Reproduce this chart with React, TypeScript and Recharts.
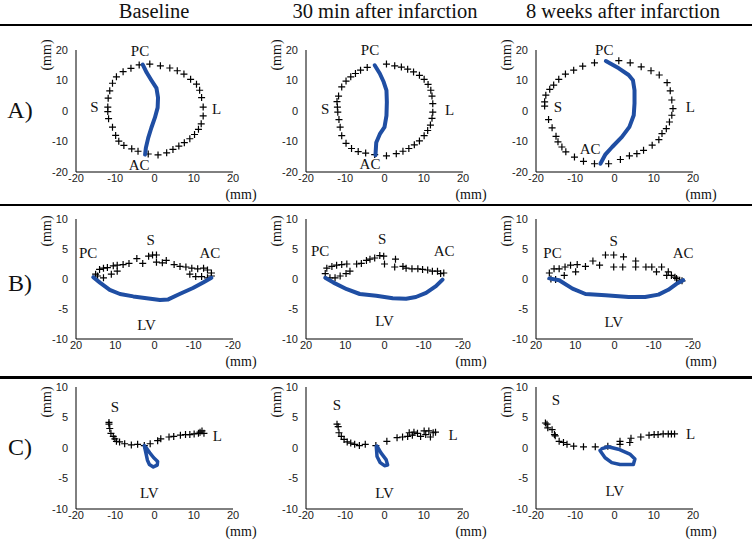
import React from "react";
import { ScatterChart, Scatter, XAxis, YAxis } from "recharts";

type Pt = [number, number];
interface Tag { t: string; x: number; y: number; }

const columnTitles = ["Baseline", "30 min after infarction", "8 weeks after infarction"];
const rowLabels = ["A)", "B)", "C)"];
const ticksWide = [-20, -10, 0, 10, 20];
const ticksNarrow = [-10, -5, 0, 5, 10];
const unitLabel = "(mm)";

// Row A: annulus seen from the atrium
const markersA1: Pt[] = [[-6.0,14.0],[-3.9,15.1],[-1.2,15.4],[1.5,14.8],[3.9,14.1],[5.8,13.2],[7.5,12.1],[9.2,10.4],[10.7,8.8],[11.5,6.8],[12.0,4.4],[12.4,1.3],[12.4,-1.6],[11.9,-4.2],[11.2,-6.0],[10.2,-7.7],[9.0,-9.1],[7.6,-10.4],[6.2,-11.5],[4.7,-12.6],[3.1,-13.7],[0.9,-14.4],[-1.6,-14.1],[-4.2,-13.2],[-5.8,-12.4],[-7.8,-11.3],[-9.1,-9.9],[-9.9,-8.0],[-10.7,-5.3],[-11.7,-2.5],[-11.9,-0.2],[-11.9,1.3],[-11.8,4.2],[-11.4,6.6],[-10.7,9.1],[-9.7,11.2],[-8.0,12.9]];
const pathA1: Pt[] = [[-3.0,15.2],[-2.0,12.6],[-0.8,10.1],[0.5,7.5],[0.9,4.4],[0.8,1.1],[0.1,-2.2],[-0.8,-5.5],[-1.6,-8.8],[-2.2,-12.1],[-2.4,-14.3]];
const tagsA1: Tag[] = [{ t: "PC", x: -3.7, y: 19.8 }, { t: "AC", x: -3.9, y: -17.8 }, { t: "S", x: -15.3, y: 1.3 }, { t: "L", x: 15.8, y: 0.5 }];

const markersA2: Pt[] = [[0.5,15.4],[2.6,14.8],[4.3,14.4],[5.9,13.7],[7.4,12.8],[8.9,11.7],[10.1,10.4],[11.1,8.7],[11.8,6.8],[12.1,4.9],[12.3,2.4],[12.3,-0.4],[12.1,-2.4],[11.7,-4.6],[11.0,-6.4],[10.1,-8.1],[8.9,-9.8],[7.6,-11.1],[6.2,-12.3],[4.7,-13.2],[3.0,-14.0],[0.5,-14.7],[-2.5,-14.3],[-4.8,-13.8],[-6.7,-13.3],[-8.4,-12.3],[-9.8,-10.6],[-10.9,-8.1],[-11.3,-5.3],[-11.6,-2.8],[-11.9,-0.4],[-12.0,1.3],[-12.1,3.1],[-11.7,4.9],[-10.9,7.9],[-9.8,9.8],[-8.6,11.2],[-7.4,12.3],[-6.1,13.4],[-4.4,14.3]];
const pathA2: Pt[] = [[-2.5,15.0],[-1.2,12.3],[-0.2,9.5],[0.5,6.8],[0.6,2.9],[0.5,-1.5],[0.0,-5.3],[-1.2,-7.6],[-2.1,-10.3],[-2.3,-14.5]];
const tagsA2: Tag[] = [{ t: "PC", x: -3.7, y: 20.0 }, { t: "AC", x: -3.7, y: -17.5 }, { t: "S", x: -15.1, y: 0.7 }, { t: "L", x: 16.6, y: 0.2 }];

const markersA3: Pt[] = [[1.1,16.5],[4.0,15.8],[6.8,14.5],[9.3,13.2],[11.4,11.8],[13.4,9.3],[14.2,6.6],[14.6,3.6],[14.9,0.8],[14.6,-1.4],[14.0,-3.6],[13.2,-5.8],[12.1,-7.4],[11.3,-9.4],[9.6,-11.2],[7.4,-12.9],[5.7,-14.0],[3.8,-14.7],[1.5,-15.9],[-1.5,-17.3],[-5.1,-17.3],[-7.9,-16.5],[-10.2,-15.1],[-12.4,-13.4],[-13.4,-11.8],[-14.4,-10.1],[-14.9,-8.3],[-15.9,-5.5],[-16.8,-2.8],[-17.8,1.6],[-17.8,3.0],[-17.5,5.2],[-16.5,7.1],[-15.5,8.5],[-14.2,10.4],[-12.5,12.1],[-10.4,13.4],[-8.1,14.7],[-5.1,15.8]];
const pathA3: Pt[] = [[-2.2,16.4],[1.1,14.0],[3.6,11.8],[4.7,10.1],[5.1,6.8],[5.1,2.5],[4.9,-1.4],[3.8,-5.2],[1.9,-8.5],[-0.6,-11.8],[-2.3,-14.2],[-3.6,-17.3]];
const tagsA3: Tag[] = [{ t: "PC", x: -2.6, y: 20.0 }, { t: "AC", x: -6.2, y: -12.3 }, { t: "S", x: -14.4, y: 1.2 }, { t: "L", x: 19.3, y: 1.2 }];

// Row B: side view, x axis reversed
const markersB1: Pt[] = [[15.0,0.8],[14.0,1.6],[13.0,1.8],[12.0,1.9],[10.5,2.2],[9.5,2.3],[8.0,2.4],[6.5,2.6],[4.5,3.4],[3.0,2.6],[1.5,3.8],[0.5,4.0],[-0.5,4.0],[-0.5,2.8],[-2.0,2.7],[-3.0,3.1],[-5.0,2.4],[-6.5,2.1],[-8.0,2.0],[-9.5,1.8],[-11.0,1.7],[-12.5,1.8],[-13.5,1.5],[-14.5,1.0],[14.5,0.5],[13.0,0.2],[11.0,0.8],[9.5,1.3],[-9.0,0.8],[-10.5,0.4],[-12.0,0.4],[-13.5,0.2],[-14.5,0.5]];
const pathB1: Pt[] = [[15.6,0.3],[13.9,-0.6],[11.4,-1.8],[8.8,-2.5],[5.4,-2.9],[2.0,-3.2],[-1.4,-3.5],[-3.5,-3.4],[-6.4,-2.5],[-9.8,-1.5],[-12.4,-0.6],[-14.5,0.2]];
const tagsB1: Tag[] = [{ t: "PC", x: 16.9, y: 4.4 }, { t: "S", x: 1.0, y: 6.5 }, { t: "AC", x: -14.1, y: 4.4 }, { t: "LV", x: 2.0, y: -7.6 }];

const markersB2: Pt[] = [[14.7,1.8],[13.4,2.1],[12.2,2.3],[10.9,2.4],[9.6,2.5],[7.1,2.5],[5.9,2.6],[4.6,3.1],[3.7,3.3],[2.5,3.5],[1.2,3.9],[0.2,3.8],[0.0,2.5],[-2.8,3.3],[-2.6,2.0],[-4.7,2.1],[-5.5,1.8],[-7.0,1.7],[-8.5,1.7],[-9.7,1.6],[-11.0,1.5],[-12.2,1.3],[-13.5,1.3],[-14.3,0.9],[-15.1,1.0],[15.1,0.9],[13.9,0.2],[12.6,0.2],[11.3,0.5],[9.8,0.9],[8.8,1.3]];
const pathB2: Pt[] = [[15.1,0.2],[13.0,-0.6],[9.6,-1.7],[6.3,-2.5],[2.1,-2.8],[-2.1,-3.2],[-5.5,-3.3],[-8.0,-3.0],[-10.6,-2.3],[-13.1,-1.2],[-14.8,-0.1]];
const tagsB2: Tag[] = [{ t: "PC", x: 16.4, y: 4.7 }, { t: "S", x: 0.6, y: 6.7 }, { t: "AC", x: -15.2, y: 4.6 }, { t: "LV", x: 0.0, y: -7.0 }];

const markersB3: Pt[] = [[16.6,1.0],[15.4,1.7],[14.1,1.7],[12.6,2.0],[11.2,2.3],[9.5,2.4],[7.4,2.1],[5.5,3.0],[3.8,2.3],[2.3,4.0],[0.2,4.0],[-2.3,3.7],[0.2,2.0],[-2.1,2.0],[-5.4,3.0],[-5.4,2.0],[-8.0,2.0],[-9.5,2.0],[-12.0,2.0],[-10.7,1.2],[-13.7,1.2],[-14.5,0.6],[-15.4,0.3],[-16.6,-0.2],[-17.2,-0.3],[16.2,0.0],[15.0,-0.1],[12.8,0.6],[9.9,1.2],[-13.3,0.6],[-15.8,0.1]];
const pathB3: Pt[] = [[16.6,0.1],[14.1,-0.2],[10.7,-1.6],[7.4,-2.5],[2.3,-2.7],[-3.6,-3.0],[-7.8,-3.0],[-11.2,-2.6],[-13.7,-1.8],[-15.8,-0.8],[-17.5,-0.2]];
const tagsB3: Tag[] = [{ t: "PC", x: 15.8, y: 4.4 }, { t: "S", x: 0.2, y: 6.4 }, { t: "AC", x: -17.5, y: 4.4 }, { t: "LV", x: 0.2, y: -7.2 }];

// Row C: short-axis view
const markersC1: Pt[] = [[-11.6,4.2],[-11.6,3.9],[-11.4,3.2],[-11.1,2.4],[-10.5,1.9],[-10.1,1.5],[-9.7,1.1],[-8.9,1.0],[-7.6,0.7],[-5.9,0.5],[-4.3,0.6],[-2.6,0.4],[-1.1,0.7],[0.8,1.2],[1.6,1.5],[3.7,1.8],[4.9,1.9],[6.6,2.1],[7.9,2.2],[9.0,2.2],[10.1,2.3],[11.2,2.4],[11.6,2.6],[12.1,2.8],[12.6,2.4]];
const pathC1: Pt[] = [[-2.6,0.4],[-2.2,-0.8],[-1.8,-2.0],[-1.3,-2.7],[-0.3,-3.1],[0.7,-2.8],[0.8,-2.2],[-0.2,-1.6],[-1.2,-0.8],[-2.2,0.1]];
const tagsC1: Tag[] = [{ t: "S", x: -10.1, y: 6.7 }, { t: "L", x: 16.0, y: 1.9 }, { t: "LV", x: -1.3, y: -7.3 }];

const markersC2: Pt[] = [[-12.1,3.9],[-11.8,3.5],[-11.6,2.5],[-11.0,1.9],[-10.3,1.4],[-9.5,1.0],[-8.6,0.8],[-7.6,0.6],[-6.4,0.4],[-4.9,0.6],[-2.2,0.4],[0.6,1.1],[3.2,1.7],[4.6,1.8],[5.9,1.9],[7.1,2.1],[8.4,2.4],[9.2,1.9],[10.5,2.2],[11.7,1.8],[12.4,2.5],[13.0,2.6],[6.3,2.5],[7.5,2.6],[10.1,2.8],[11.3,2.8]];
const pathC2: Pt[] = [[-2.1,0.3],[-1.9,-1.4],[-1.1,-2.4],[0.0,-2.9],[0.8,-2.8],[0.4,-1.9],[-0.9,-0.8],[-1.9,0.3]];
const tagsC2: Tag[] = [{ t: "S", x: -12.1, y: 7.1 }, { t: "L", x: 17.5, y: 2.2 }, { t: "LV", x: 0.0, y: -7.4 }];

const markersC3: Pt[] = [[-17.6,4.1],[-17.2,3.9],[-17.0,3.3],[-15.9,3.0],[-15.3,2.2],[-15.1,2.0],[-14.1,1.1],[-13.0,0.9],[-12.1,0.6],[-10.4,0.3],[-7.9,0.2],[-4.9,0.2],[-1.7,0.3],[1.4,1.1],[1.4,0.6],[3.9,0.9],[4.2,1.6],[6.7,1.8],[8.8,2.1],[10.1,2.2],[11.1,2.2],[12.4,2.3],[13.7,2.3],[14.5,2.3],[15.3,2.3]];
const pathC3: Pt[] = [[-3.7,-0.4],[-2.4,-1.6],[-0.7,-2.4],[1.4,-2.7],[4.8,-2.7],[5.2,-1.8],[3.9,-1.0],[1.0,-0.2],[-1.6,0.2],[-3.2,-0.1]];
const tagsC3: Tag[] = [{ t: "S", x: -14.9, y: 7.8 }, { t: "L", x: 19.4, y: 2.3 }, { t: "LV", x: 0.1, y: -7.0 }];

const BLUE = "#1f4ea3";
const SERIF = "'Liberation Serif', 'Times New Roman', serif";
const SANS = "'Liberation Sans', Arial, sans-serif";

const colLeft = [76, 306, 536];
const rowTop = [50, 219, 387];
const rowHeight = [122, 120, 122];
const plotW = 157;
const yUnitOffset = [5, 12, 15];
const PAD_TOP = 25;

const toObj = (pts: Pt[]) => pts.map(([x, y]) => ({ x, y }));

const Cross = (p: any) => {
  const { cx, cy } = p;
  if (cx == null || cy == null) return <g />;
  return <path d={`M${cx - 3.5},${cy}h7M${cx},${cy - 3.5}v7`} stroke="#000" strokeWidth={1.2} fill="none" />;
};

const TagText = (p: any) => {
  const { cx, cy, payload } = p;
  return (
    <text x={cx} y={cy} textAnchor="middle" dominantBaseline="central" fontFamily={SERIF} fontSize={15} fill="#111">
      {payload.t}
    </text>
  );
};

interface PanelProps {
  row: number;
  col: number;
  markers: Pt[];
  path: Pt[];
  tags: Tag[];
}

function Panel({ row, col, markers, path, tags }: PanelProps) {
  const left = colLeft[col];
  const top = rowTop[row];
  const h = rowHeight[row];
  const yWide = row === 0;
  const reversed = row === 1;
  return (
    <>
      <div style={{ position: "absolute", left: left - 40, top: top - PAD_TOP }}>
        <ScatterChart width={plotW + 55} height={h + PAD_TOP + 25} margin={{ top: PAD_TOP, right: 15, left: 0, bottom: 0 }}>
          <XAxis
            type="number"
            dataKey="x"
            domain={[-20, 20]}
            ticks={ticksWide}
            interval={0}
            reversed={reversed}
            height={25}
            tickLine={false}
            tickSize={0}
            axisLine={{ stroke: "#000" }}
            tick={{ fill: "#1a1a1a", fontSize: 11, fontFamily: SANS }}
          />
          <YAxis
            type="number"
            dataKey="y"
            domain={yWide ? [-20, 20] : [-10, 10]}
            ticks={yWide ? ticksWide : ticksNarrow}
            interval={0}
            width={40}
            tickLine={false}
            tickSize={6}
            axisLine={{ stroke: "#000" }}
            tick={{ fill: "#1a1a1a", fontSize: 11, fontFamily: SANS }}
          />
          <Scatter data={toObj(markers)} shape={Cross} isAnimationActive={false} />
          <Scatter
            data={toObj(path)}
            shape={() => <g />}
            line={{ stroke: BLUE, strokeWidth: row === 2 ? 3.5 : 4, strokeLinejoin: "round", strokeLinecap: "round" }}
            lineJointType="linear"
            isAnimationActive={false}
          />
          <Scatter data={tags} shape={TagText} isAnimationActive={false} />
        </ScatterChart>
      </div>
      <div
        style={{
          position: "absolute",
          left: left - 29,
          top: top + yUnitOffset[row],
          transform: "translate(-50%, -50%) rotate(-90deg)",
          fontFamily: SERIF,
          fontSize: 14,
          whiteSpace: "nowrap",
          color: "#111",
        }}
      >
        {unitLabel}
      </div>
      <div
        style={{
          position: "absolute",
          left: left + plotW + 8,
          top: top + h + 23,
          transform: "translate(-50%, -50%)",
          fontFamily: SERIF,
          fontSize: 14,
          lineHeight: "14px",
          whiteSpace: "nowrap",
          color: "#111",
        }}
      >
        {unitLabel}
      </div>
    </>
  );
}

const panels = [
  [markersA1, pathA1, tagsA1], [markersA2, pathA2, tagsA2], [markersA3, pathA3, tagsA3],
  [markersB1, pathB1, tagsB1], [markersB2, pathB2, tagsB2], [markersB3, pathB3, tagsB3],
  [markersC1, pathC1, tagsC1], [markersC2, pathC2, tagsC2], [markersC3, pathC3, tagsC3],
] as [Pt[], Pt[], Tag[]][];

const titleCenters = [154, 385, 623];
const rowLabelY = [110, 283, 447];
const ruleY = [24, 204, 376];
const ruleH = [2, 2, 3];

export default function App() {
  return (
    <div style={{ position: "absolute", left: 0, top: 0, width: 752, height: 544, background: "#fff", overflow: "hidden" }}>
      {columnTitles.map((t, i) => (
        <div
          key={t}
          style={{ position: "absolute", left: titleCenters[i], top: 11, transform: "translate(-50%, -50%)", fontFamily: SERIF, fontSize: 20.5, whiteSpace: "nowrap", color: "#111" }}
        >
          {t}
        </div>
      ))}
      {ruleY.map((y, i) => (
        <div key={y} style={{ position: "absolute", left: 0, top: y, width: 752, height: ruleH[i], background: "#000" }} />
      ))}
      {rowLabels.map((t, i) => (
        <div
          key={t}
          style={{ position: "absolute", left: 20, top: rowLabelY[i], transform: "translate(-50%, -50%)", fontFamily: SERIF, fontSize: 24, color: "#111" }}
        >
          {t}
        </div>
      ))}
      {panels.map(([m, p, tg], i) => (
        <Panel key={i} row={Math.floor(i / 3)} col={i % 3} markers={m} path={p} tags={tg} />
      ))}
    </div>
  );
}
